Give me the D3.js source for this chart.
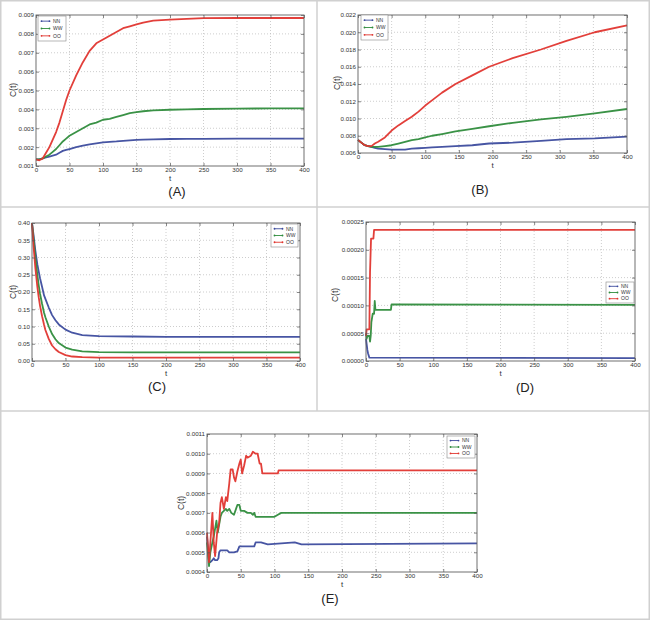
<!DOCTYPE html>
<html>
<head>
<meta charset="utf-8">
<script src="https://cdn.jsdelivr.net/npm/d3@7"></script>
<style>
  body { margin: 0; background: #fff; }
  text { font-family: "Liberation Sans", Arial, sans-serif; }
</style>
</head>
<body>
<div id="chart"></div>
<script>
// ---- data ----
const seriesNames = ['NN', 'WW', 'OO']
const xTicks = [0, 50, 100, 150, 200, 250, 300, 350, 400]

// (A)
const tA = [0, 5, 10, 15, 20, 25, 30, 35, 40, 45, 50, 60, 70, 80, 90, 100, 110, 120, 130, 140, 150, 160, 175, 200, 225, 250, 300, 350, 400]
const A_NN = [0.00135, 0.00135, 0.0014, 0.00145, 0.0015, 0.00155, 0.0016, 0.0017, 0.0018, 0.00185, 0.0019, 0.002, 0.00208, 0.00215, 0.0022, 0.00225, 0.00228, 0.0023, 0.00233, 0.00236, 0.00238, 0.0024, 0.00241, 0.00243, 0.00244, 0.00244, 0.00245, 0.00245, 0.00245]
const A_WW = [0.00135, 0.00135, 0.0014, 0.0015, 0.0016, 0.00175, 0.0019, 0.0021, 0.0023, 0.00245, 0.0026, 0.0028, 0.003, 0.0032, 0.0033, 0.00345, 0.0035, 0.0036, 0.0037, 0.0038, 0.00385, 0.0039, 0.00395, 0.00398, 0.004, 0.00402, 0.00404, 0.00405, 0.00405]
const A_OO = [0.00135, 0.0013, 0.0014, 0.0017, 0.002, 0.0024, 0.0028, 0.0033, 0.0039, 0.0045, 0.005, 0.0058, 0.0065, 0.0071, 0.0075, 0.0077, 0.0079, 0.0081, 0.0083, 0.0084, 0.0085, 0.0086, 0.0087, 0.00875, 0.0088, 0.00883, 0.00884, 0.00884, 0.00884]
const yTicksA = [0.001, 0.002, 0.003, 0.004, 0.005, 0.006, 0.007, 0.008, 0.009]

// (B)
const tB = [0, 5, 10, 15, 20, 25, 30, 40, 50, 60, 70, 80, 90, 100, 110, 125, 145, 170, 195, 230, 272, 310, 352, 400]
const B_NN = [0.0075, 0.0072, 0.0069, 0.0068, 0.0067, 0.0066, 0.0065, 0.00645, 0.0064, 0.0064, 0.0064, 0.0065, 0.00655, 0.0066, 0.00665, 0.0067, 0.0068, 0.0069, 0.0071, 0.0072, 0.0074, 0.0076, 0.0077, 0.0079]
const B_WW = [0.0075, 0.0072, 0.0069, 0.0068, 0.0067, 0.0067, 0.0067, 0.0068, 0.0069, 0.0071, 0.0073, 0.0075, 0.0076, 0.0078, 0.008, 0.0082, 0.0085, 0.0088, 0.0091, 0.0095, 0.0099, 0.0102, 0.0106, 0.0111]
const B_OO = [0.0075, 0.0072, 0.0069, 0.0068, 0.0068, 0.0071, 0.0073, 0.0078, 0.0086, 0.0092, 0.0097, 0.0102, 0.0108, 0.0115, 0.0121, 0.013, 0.014, 0.015, 0.016, 0.017, 0.018, 0.019, 0.02, 0.0208]
const yTicksB = [0.006, 0.008, 0.010, 0.012, 0.014, 0.016, 0.018, 0.020, 0.022]

// (C)
const tC = [0, 2, 5, 8, 10, 12, 15, 18, 20, 25, 30, 35, 40, 50, 60, 75, 100, 150, 200, 400]
const C_NN = [0.40, 0.37, 0.32, 0.28, 0.26, 0.24, 0.215, 0.19, 0.18, 0.155, 0.133, 0.118, 0.106, 0.091, 0.082, 0.075, 0.072, 0.071, 0.07, 0.07]
const C_WW = [0.40, 0.36, 0.30, 0.25, 0.22, 0.195, 0.166, 0.14, 0.127, 0.10, 0.078, 0.063, 0.052, 0.039, 0.033, 0.028, 0.026, 0.025, 0.025, 0.025]
const C_OO = [0.40, 0.34, 0.27, 0.215, 0.185, 0.16, 0.13, 0.105, 0.09, 0.064, 0.045, 0.034, 0.026, 0.017, 0.013, 0.011, 0.01, 0.01, 0.01, 0.01]
const yTicksC = [0, 0.05, 0.10, 0.15, 0.20, 0.25, 0.30, 0.35, 0.40]

// (D)
const tD_NN = [0, 1, 2, 3, 4, 5, 400]
const D_NN = [0.00004, 0.00003, 0.00002, 0.000014, 0.00001, 0.000006, 0.000005]
const tD_WW = [0, 1, 2, 3, 5, 6, 7, 8, 10, 12, 13, 14, 37, 38, 400]
const D_WW = [0.00005, 0.00004, 0.000045, 0.000045, 0.000045, 0.000035, 0.000045, 0.00007, 0.000085, 0.000085, 0.000108, 0.000092, 0.000092, 0.000102, 0.000101]
const tD_OO = [0, 1, 5, 6, 7.5, 11, 12, 400]
const D_OO = [0.000045, 0.000057, 0.000057, 0.00016, 0.00022, 0.00022, 0.000236, 0.000236]
const yTicksD = [0, 0.00005, 0.0001, 0.00015, 0.0002, 0.00025]

// (E)
const tE_NN = [0, 3, 5, 8, 10, 12, 15, 17, 18, 20, 25, 30, 33, 40, 45, 48, 60, 70, 72, 80, 90, 130, 140, 400]
const E_NN = [0.00058, 0.00045, 0.00045, 0.00046, 0.00047, 0.00046, 0.00046, 0.00047, 0.0005, 0.00051, 0.00051, 0.00051, 0.0005, 0.0005, 0.000505, 0.00053, 0.00053, 0.00053, 0.00055, 0.00055, 0.00054, 0.00055, 0.00054, 0.000545]
const tE_WW = [0, 3, 5, 8, 10, 12, 14, 16, 18, 20, 22, 25, 28, 30, 33, 36, 40, 43, 45, 48, 50, 55, 60, 65, 68, 70, 72, 75, 100, 105, 110, 400]
const E_WW = [0.00055, 0.00043, 0.0005, 0.00055, 0.00058, 0.00062, 0.00066, 0.0006, 0.00064, 0.00068, 0.0007, 0.00071, 0.00072, 0.00071, 0.00072, 0.0007, 0.00069, 0.00072, 0.00074, 0.00074, 0.00071, 0.00071, 0.0007, 0.0007, 0.00069, 0.0007, 0.00068, 0.00068, 0.00068, 0.00069, 0.0007, 0.0007]
const tE_OO = [0, 3, 5, 8, 10, 12, 15, 18, 20, 22, 25, 28, 30, 33, 35, 38, 40, 42, 45, 48, 50, 52, 55, 58, 60, 65, 68, 72, 75, 78, 80, 82, 105, 106, 400]
const E_OO = [0.0006, 0.00045, 0.00055, 0.0007, 0.00055, 0.00048, 0.0006, 0.00065, 0.00075, 0.00078, 0.00072, 0.00078, 0.00076, 0.00085, 0.00092, 0.00092, 0.00088, 0.00086, 0.00091, 0.00095, 0.00097, 0.0009, 0.00094, 0.00099, 0.00098, 0.00099, 0.00101, 0.001, 0.001, 0.00095, 0.00095, 0.0009, 0.0009, 0.000915, 0.000915]
const yTicksE = [0.0004, 0.0005, 0.0006, 0.0007, 0.0008, 0.0009, 0.0010, 0.0011]

const colors = { NN: '#3d4c9e', WW: '#2f8c3c', OO: '#e0352f' }

// ---- layout ----
const width = 650, height = 620

const svg = d3.select('#chart').append('svg')
    .attr('width', width)
    .attr('height', height)

// frame lines between the sub-figures
svg.append('rect').attr('x', 0.75).attr('y', 0.75).attr('width', width - 1.5).attr('height', height - 1.5)
    .attr('fill', 'none').attr('stroke', '#d0d0d0').attr('stroke-width', 1.5)
svg.append('line').attr('x1', 317).attr('x2', 317).attr('y1', 0).attr('y2', 411)
    .attr('stroke', '#d0d0d0').attr('stroke-width', 1.5)
svg.append('line').attr('x1', 0).attr('x2', width).attr('y1', 207).attr('y2', 207)
    .attr('stroke', '#d0d0d0').attr('stroke-width', 1.5)
svg.append('line').attr('x1', 0).attr('x2', width).attr('y1', 411).attr('y2', 411)
    .attr('stroke', '#d0d0d0').attr('stroke-width', 1.5)

const panels = [
    { label: '(A)', box: [36, 15, 304, 166], ticks: yTicksA, fmt: '.3f', lab: [177, 196], yl: [13, 90],
      legend: [38, 16, 28, 25],
      series: [[tA, A_NN], [tA, A_WW], [tA, A_OO]] },
    { label: '(B)', box: [358, 15, 627, 153], ticks: yTicksB, fmt: '.3f', lab: [480, 194], yl: [337, 83],
      legend: [361, 15, 27, 25],
      series: [[tB, B_NN], [tB, B_WW], [tB, B_OO]] },
    { label: '(C)', box: [32, 223, 300, 361], ticks: yTicksC, fmt: '.2f', lab: [157, 391], yl: [13, 292],
      legend: [271, 224, 27, 23],
      series: [[tC, C_NN], [tC, C_WW], [tC, C_OO]] },
    { label: '(D)', box: [366, 222, 635, 361], ticks: yTicksD, fmt: '.5f', lab: [525, 392], yl: [335, 295],
      legend: [606, 282, 28, 21],
      series: [[tD_NN, D_NN], [tD_WW, D_WW], [tD_OO, D_OO]] },
    { label: '(E)', box: [207, 434, 477, 572], ticks: yTicksE, fmt: '.4f', lab: [330, 603], yl: [181, 503],
      legend: [447, 436, 28, 22],
      series: [[tE_NN, E_NN], [tE_WW, E_WW], [tE_OO, E_OO]] }
]

panels.forEach(p => drawPanel(p))

function drawPanel(p) {
    const [x0, y0, x1, y1] = p.box
    const x = d3.scaleLinear().domain([0, 400]).range([x0, x1])
    const y = d3.scaleLinear().domain([p.ticks[0], p.ticks[p.ticks.length - 1]]).range([y1, y0])
    const g = svg.append('g')

    // dotted grid
    g.selectAll('.gx').data(xTicks.slice(1, -1)).enter().append('line')
        .attr('x1', d => x(d)).attr('x2', d => x(d)).attr('y1', y0).attr('y2', y1)
        .attr('stroke', '#b8b8b8').attr('stroke-width', 0.7).attr('stroke-dasharray', '1,2')
    g.selectAll('.gy').data(p.ticks.slice(1, -1)).enter().append('line')
        .attr('x1', x0).attr('x2', x1).attr('y1', d => y(d)).attr('y2', d => y(d))
        .attr('stroke', '#b8b8b8').attr('stroke-width', 0.7).attr('stroke-dasharray', '1,2')

    // curves
    const line = d3.line().x(d => x(d[0])).y(d => y(d[1]))
    p.series.forEach((s, i) => {
        const pts = s[0].map((t, k) => [t, s[1][k]])
        g.append('path').datum(pts)
            .attr('d', line)
            .attr('fill', 'none')
            .attr('stroke', colors[seriesNames[i]])
            .attr('stroke-width', 1.8)
            .attr('stroke-linejoin', 'round')
            .attr('opacity', 0.95)
    })

    // axes (matplotlib classic: ticks inside, all four sides)
    const fmt = d3.format(p.fmt)
    g.append('g').attr('transform', `translate(0,${y1})`)
        .call(d3.axisBottom(x).tickValues(xTicks).tickSizeInner(-3).tickSizeOuter(0).tickPadding(2))
    g.append('g').attr('transform', `translate(${x0},0)`)
        .call(d3.axisLeft(y).tickValues(p.ticks).tickFormat(fmt).tickSizeInner(-3).tickSizeOuter(0).tickPadding(2))
    g.append('g').attr('transform', `translate(0,${y0})`)
        .call(d3.axisTop(x).tickValues(xTicks).tickSizeInner(-3).tickSizeOuter(0).tickFormat(''))
    g.append('g').attr('transform', `translate(${x1},0)`)
        .call(d3.axisRight(y).tickValues(p.ticks).tickSizeInner(-3).tickSizeOuter(0).tickFormat(''))
    g.selectAll('.domain').remove()
    g.selectAll('.tick line').attr('stroke', '#555').attr('stroke-width', 0.7)
    g.selectAll('.tick text').attr('font-size', '6.2px').attr('fill', '#333')
        .attr('font-family', '"Liberation Sans", Arial, sans-serif')

    g.append('rect').attr('x', x0).attr('y', y0).attr('width', x1 - x0).attr('height', y1 - y0)
        .attr('fill', 'none').attr('stroke', '#606060').attr('stroke-width', 0.9)

    // labels
    g.append('text').attr('x', (x0 + x1) / 2).attr('y', y1 + 15)
        .attr('text-anchor', 'middle').attr('font-size', '8px').attr('fill', '#333').text('t')
    g.append('text').attr('transform', `translate(${p.yl[0] + 3},${p.yl[1]}) rotate(-90)`)
        .attr('text-anchor', 'middle').attr('font-size', '8.5px').attr('fill', '#333').text('C(t)')
    g.append('text').attr('x', p.lab[0]).attr('y', p.lab[1])
        .attr('text-anchor', 'middle').attr('font-size', '13px').attr('fill', '#222').text(p.label)

    // legend
    const [lx, ly, lw, lh] = p.legend
    const lg = g.append('g')
    lg.append('rect').attr('x', lx).attr('y', ly).attr('width', lw).attr('height', lh)
        .attr('fill', '#fff').attr('stroke', '#888').attr('stroke-width', 0.6)
    const step = lh / 3.4
    seriesNames.forEach((n, i) => {
        const cy = ly + step * (i + 0.7)
        lg.append('line').attr('x1', lx + 3.5).attr('x2', lx + 11.5).attr('y1', cy).attr('y2', cy)
            .attr('stroke', colors[n]).attr('stroke-width', 0.9)
        lg.selectAll(null).data([lx + 3.5, lx + 11.5]).enter().append('circle')
            .attr('cx', d => d).attr('cy', cy).attr('r', 0.9).attr('fill', colors[n])
        lg.append('text').attr('x', lx + 15).attr('y', cy + 1.8)
            .attr('font-size', '5px').attr('fill', '#333').text(n)
    })
}
</script>
</body>
</html>
